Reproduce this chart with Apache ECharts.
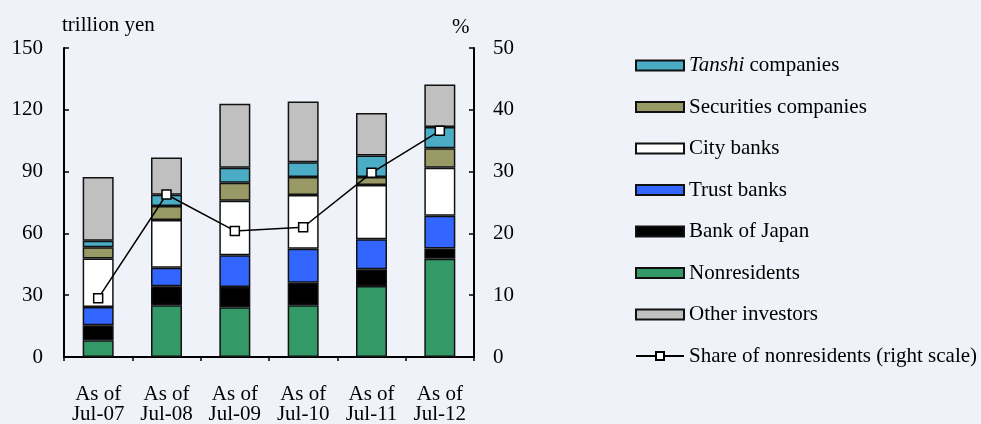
<!DOCTYPE html>
<html><head><meta charset="utf-8">
<script src="https://cdn.jsdelivr.net/npm/echarts@6/dist/echarts.min.js"></script>
<style>html,body{margin:0;padding:0;background:#eff3f9;}#c{width:981px;height:424px;}</style>
</head><body><div id="c"></div>
<script>
const categories = ['As of\nJul-07','As of\nJul-08','As of\nJul-09','As of\nJul-10','As of\nJul-11','As of\nJul-12'];
const nonresidents = [8.1, 25.1, 24.2, 25.1, 34.5, 47.7];
const bankOfJapan = [7.3, 9.3, 9.8, 10.9, 8.1, 5.0];
const trustBanks = [8.9, 8.9, 15.4, 16.5, 14.6, 15.9];
const cityBanks = [23.5, 23.2, 26.5, 26.1, 26.3, 23.3];
const securities = [5.5, 6.8, 8.7, 8.8, 3.9, 9.4];
const tanshi = [3.1, 5.5, 7.3, 7.1, 10.4, 10.4];
const others = [31.0, 18.0, 31.0, 29.5, 20.6, 20.6];
const shareNonres = [9.5, 26.3, 20.4, 21.0, 29.8, 36.6];
const leftTicks = [0, 30, 60, 90, 120, 150];
const rightTicks = [0, 10, 20, 30, 40, 50];

const FONT = 'Liberation Serif';
const FS = 21;
const border = {borderColor:'#111', borderWidth:1.5};
function bar(name, data, color){
  return {name, type:'bar', stack:'s', data, barWidth:31,
    itemStyle:Object.assign({color}, border), emphasis:{disabled:true}};
}
const series = [
  bar('Nonresidents', nonresidents, '#339966'),
  bar('Bank of Japan', bankOfJapan, '#000000'),
  bar('Trust banks', trustBanks, '#3366ff'),
  bar('City banks', cityBanks, '#ffffff'),
  bar('Securities companies', securities, '#999966'),
  bar('Tanshi companies', tanshi, '#4bacc6'),
  bar('Other investors', others, '#c0c0c0'),
  {name:'Share of nonresidents (right scale)', type:'line', yAxisIndex:1, data:shareNonres,
   symbol:'rect', symbolSize:9, lineStyle:{color:'#000', width:1.5},
   itemStyle:{color:'#fff', borderColor:'#000', borderWidth:1.5}, emphasis:{disabled:true}, z:10}
];
const legendNames = ['Tanshi companies','Securities companies','City banks','Trust banks','Bank of Japan','Nonresidents','Other investors','Share of nonresidents (right scale)'];
const axisLine = {show:true, lineStyle:{color:'#000', width:2}};
const chart = echarts.init(document.getElementById('c'));
chart.setOption({
  backgroundColor:'#eff3f9',
  animation:false,
  textStyle:{fontFamily:FONT},
  grid:{left:64, right:507, top:48, bottom:67, containLabel:false, outerBoundsMode:'none'},
  xAxis:{type:'category', data:categories,
    axisLine,
    axisTick:{show:true, inside:false, length:4, lineStyle:{color:'#000', width:1.5}},
    axisLabel:{color:'#000', fontSize:FS, fontFamily:FONT, lineHeight:20, margin:27}},
  yAxis:[
    {type:'value', min:0, max:150, interval:30,
     axisLine,
     axisTick:{show:true, inside:true, length:5, lineStyle:{color:'#000', width:1.5}},
     splitLine:{show:false},
     axisLabel:{color:'#000', fontSize:FS, fontFamily:FONT, margin:21}},
    {type:'value', min:0, max:50, interval:10, position:'right',
     axisLine,
     axisTick:{show:true, inside:true, length:5, lineStyle:{color:'#000', width:1.5}},
     splitLine:{show:false},
     axisLabel:{color:'#000', fontSize:FS, fontFamily:FONT, margin:19}}
  ],
  legend:{orient:'vertical', left:635, top:55, padding:0, itemWidth:48, itemHeight:10, itemGap:20.5,
    data:legendNames.map(n => n.startsWith('Share') ? {name:n} : {name:n, icon:'rect'}),
    formatter: n => n === 'Tanshi companies' ? '{i|Tanshi} companies' : n,
    textStyle:{color:'#000', fontSize:FS, fontFamily:FONT, lineHeight:20,
      rich:{i:{fontStyle:'italic', fontSize:FS, fontFamily:FONT, color:'#000'}}},
    selectedMode:false},
  graphic:[
    {type:'text', left:62, top:15, style:{text:'trillion yen', font:'21px "Liberation Serif"', fill:'#000'}},
    {type:'text', left:452, top:17, style:{text:'%', font:'21px "Liberation Serif"', fill:'#000'}}
  ],
  series
});
</script></body></html>
